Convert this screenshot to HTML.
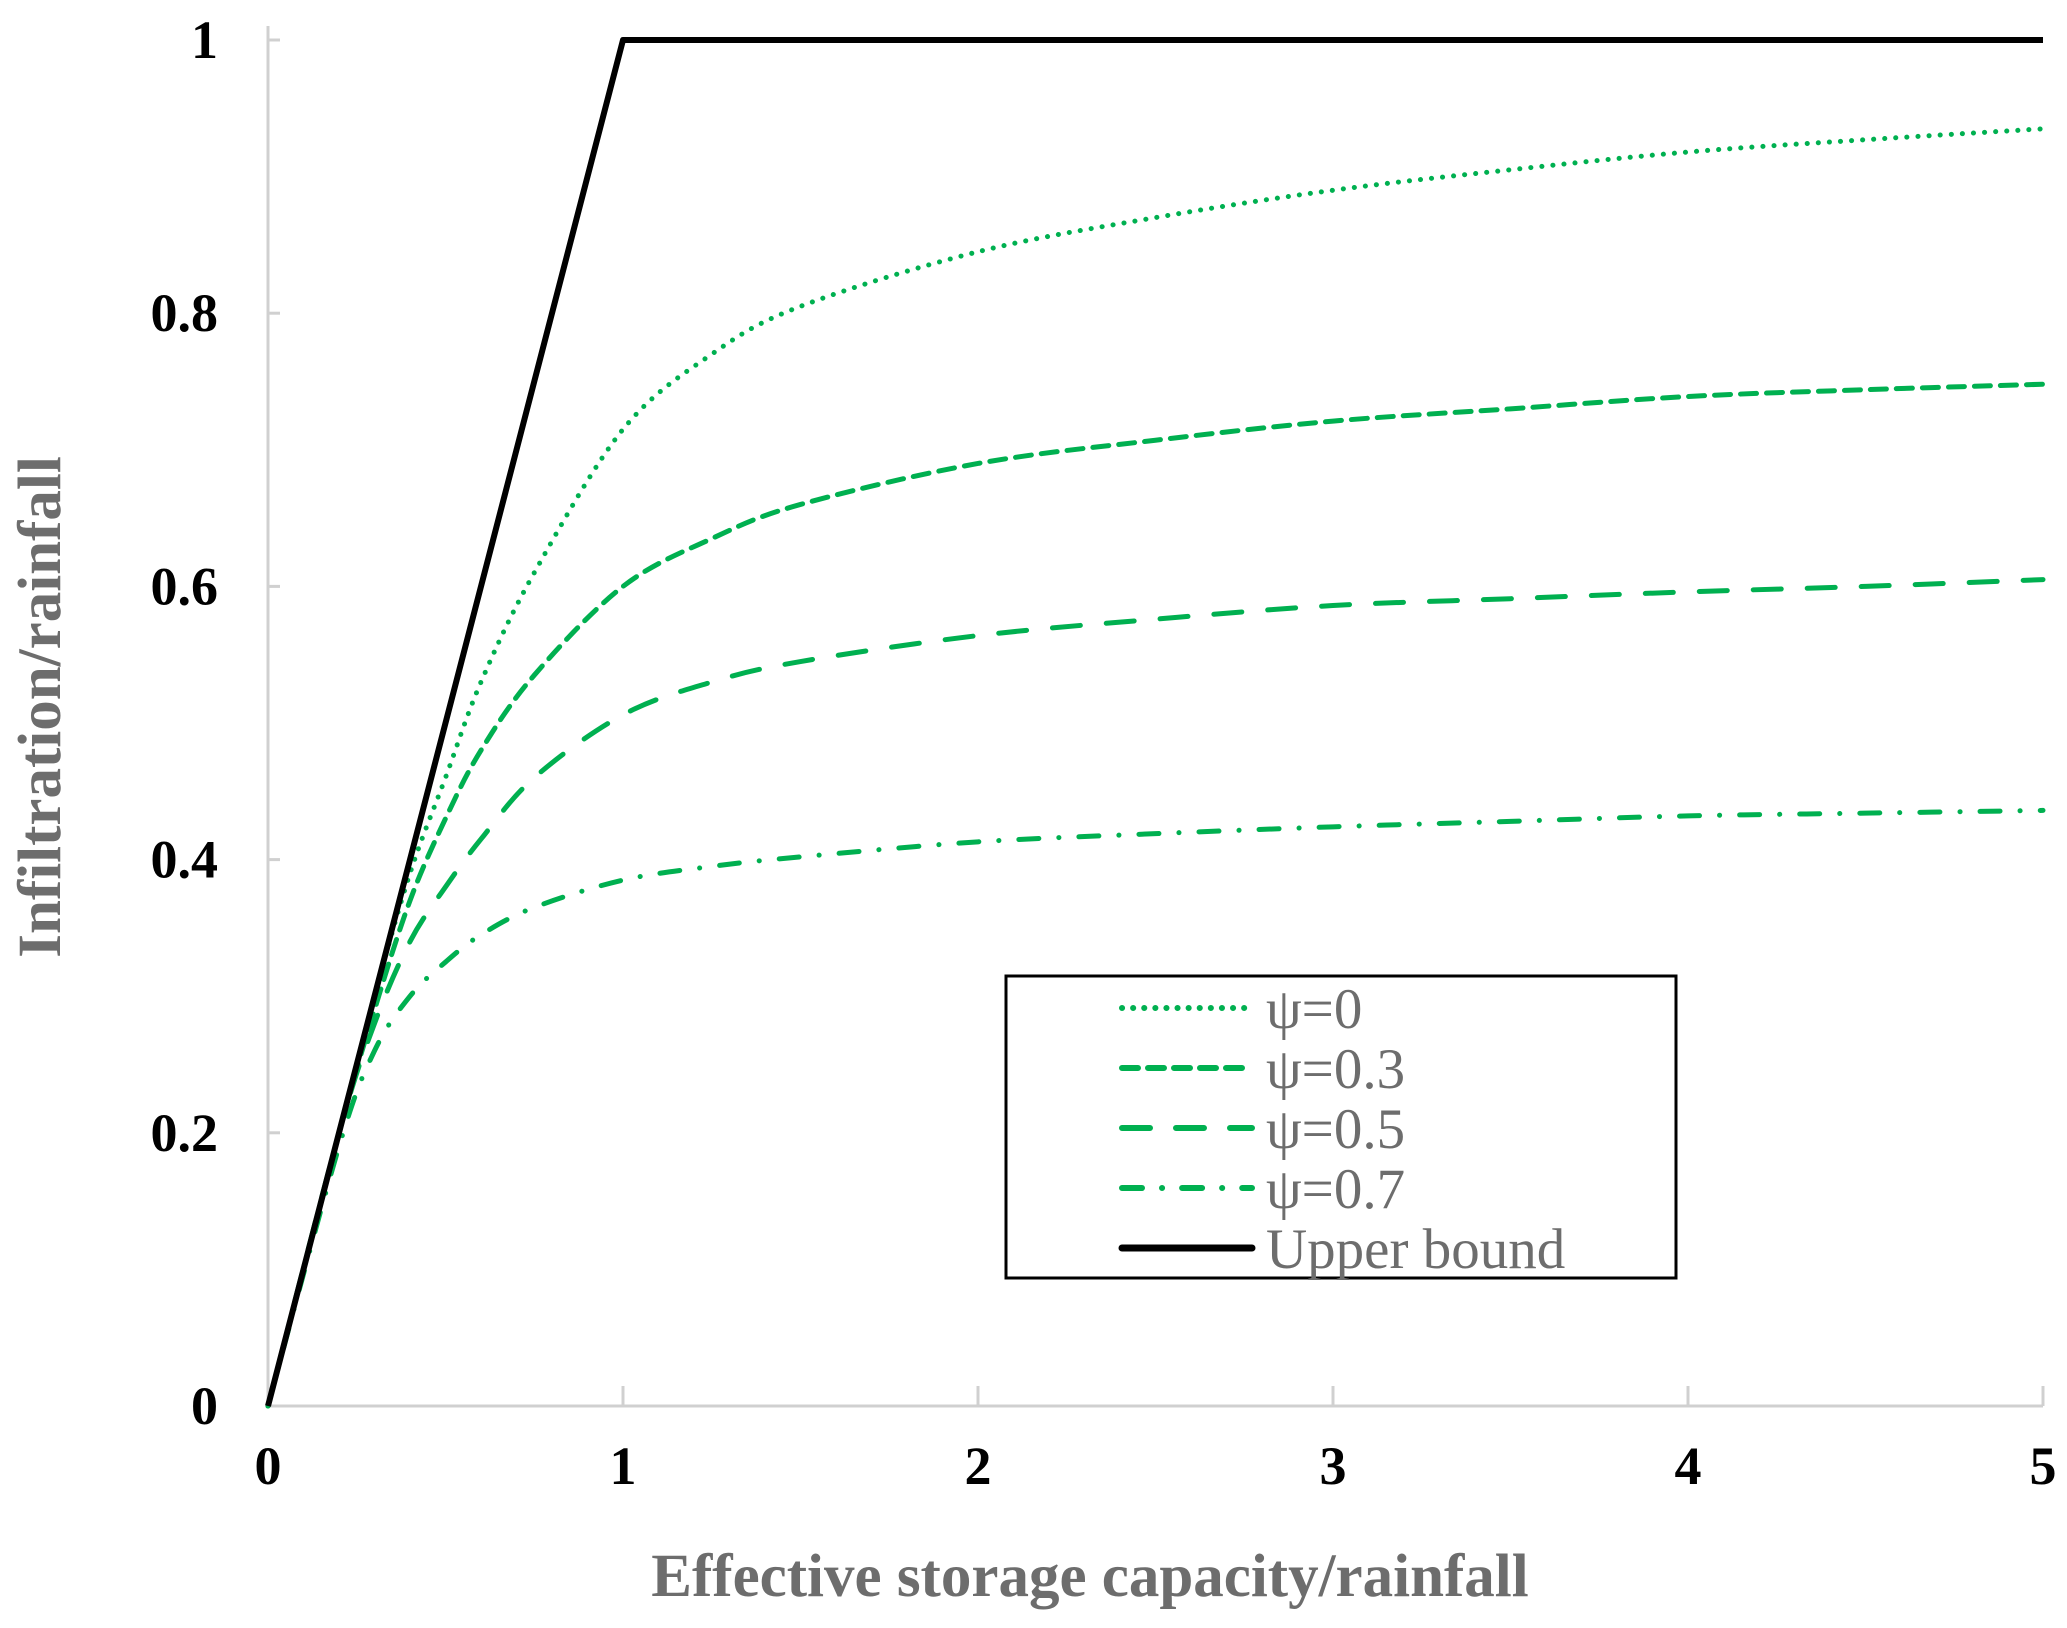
<!DOCTYPE html>
<html><head><meta charset="utf-8"><style>
html,body{margin:0;padding:0;background:#fff}
svg{display:block}
</style></head><body>
<svg id="chart" width="2067" height="1628" xmlns="http://www.w3.org/2000/svg" font-family="'Liberation Serif', serif">
<g id="axes"></g><g id="series"></g>
<g id="legend">
<rect x="1006" y="976" width="670" height="302" fill="#fff" stroke="#000" stroke-width="3"/>
</g>
<text x="1090" y="1596" text-anchor="middle" font-size="61" font-weight="bold" fill="#6d6d6d">Effective storage capacity/rainfall</text>
<text x="60" y="707" text-anchor="middle" font-size="61" font-weight="bold" fill="#6d6d6d" transform="rotate(-90 60 707)">Infiltration/rainfall</text>
</svg>
<script>
const xTicks=[0,1,2,3,4,5];
const yTicks=[0,0.2,0.4,0.6,0.8,1];
const yTickLabels=["0","0.2","0.4","0.6","0.8","1"];
const upperX=[0,1,5];
const upperY=[0,1,1];
const sx=[0,0.2,0.3,0.4,0.5,0.6,0.75,1,1.25,1.5,2,2.5,3,3.5,4,4.5,5];
const psi0=[0,0.2,0.3,0.39,0.46,0.53,0.61,0.715,0.77,0.805,0.845,0.87,0.89,0.905,0.918,0.927,0.935];
const psi03=[0,0.2,0.29,0.37,0.43,0.48,0.535,0.60,0.635,0.66,0.69,0.707,0.721,0.73,0.739,0.744,0.748];
const psi05=[0,0.2,0.28,0.34,0.38,0.415,0.46,0.506,0.53,0.545,0.564,0.576,0.586,0.591,0.596,0.60,0.605];
const psi07=[0,0.19,0.26,0.30,0.325,0.345,0.365,0.385,0.395,0.402,0.413,0.419,0.424,0.428,0.432,0.434,0.436];
const legendLabels=["ψ=0","ψ=0.3","ψ=0.5","ψ=0.7","Upper bound"];
const X=v=>268+v*355;
const Y=v=>1406-v*1366;
const NS="http://www.w3.org/2000/svg";
function mk(tag,attrs,parent){const e=document.createElementNS(NS,tag);for(const k in attrs)e.setAttribute(k,attrs[k]);parent.appendChild(e);return e;}
function smooth(P){let d='M'+P[0][0]+','+P[0][1];for(let i=0;i<P.length-1;i++){const p0=P[Math.max(0,i-1)],p1=P[i],p2=P[i+1],p3=P[Math.min(P.length-1,i+2)];const c1=[p1[0]+(p2[0]-p0[0])/6,p1[1]+(p2[1]-p0[1])/6],c2=[p2[0]-(p3[0]-p1[0])/6,p2[1]-(p3[1]-p1[1])/6];d+=' C'+c1+' '+c2+' '+p2;}return d;}
const axes=document.getElementById('axes');
let a=mk('line',{x1:X(0),y1:Y(0),x2:X(5),y2:Y(0),stroke:'#d0d0d0','stroke-width':3},axes);


a=mk('line',{x1:X(0),y1:Y(0),x2:X(0),y2:Y(1)-14,stroke:'#d0d0d0','stroke-width':3},axes);


xTicks.forEach(t=>{
 const l=mk('line',{x1:X(t),y1:Y(0),x2:X(t),y2:Y(0)-20,stroke:'#d0d0d0','stroke-width':3},axes);
 
 
 const tx=mk('text',{x:X(t),y:1484,'text-anchor':'middle','font-size':54,'font-weight':'bold',fill:'#000'},axes);
 tx.textContent=String(t);
 
 
});
yTicks.forEach((t,i)=>{
 const l=mk('line',{x1:X(0),y1:Y(t),x2:X(0)+12,y2:Y(t),stroke:'#d0d0d0','stroke-width':3},axes);
 
 
 const tx=mk('text',{x:218,y:Y(t)+18,'text-anchor':'end','font-size':54,'font-weight':'bold',fill:'#000'},axes);
 tx.textContent=yTickLabels[i];
 
 
});
const ser=document.getElementById('series');
const G='#00b050';
const styles=[
 {xs:sx,ys:psi0,c:G,d:'0.1 11',n:'series-psi-0'},
 {xs:sx,ys:psi03,c:G,d:'16 10',n:'series-psi-0-3'},
 {xs:sx,ys:psi05,c:G,d:'28 26',n:'series-psi-0-5'},
 {xs:sx,ys:psi07,c:G,d:'20 20 0.1 20',n:'series-psi-0-7'},
 {xs:upperX,ys:upperY,c:'#000',d:'',n:'series-upper-bound'}
];
styles.forEach((s,i)=>{
 const P=s.xs.map((x,j)=>[X(x),Y(s.ys[j])]);
 let p;
 if(i==4) p=mk('polyline',{points:P.map(q=>q.join(',')).join(' '),fill:'none',stroke:s.c,'stroke-width':6,'stroke-linejoin':'round'},ser);
 else p=mk('path',{d:smooth(P),fill:'none',stroke:s.c,'stroke-width':5,'stroke-linecap':'round'},ser);
 if(s.d)p.setAttribute('stroke-dasharray',s.d);
 
 
 const leg=document.getElementById('legend');
 const yy=1008+i*60;
 const ll=mk('line',{x1:1122,y1:yy,x2:1252,y2:yy,stroke:s.c,'stroke-width':i==4?7:6,'stroke-linecap':'round'},leg);
 if(s.d)ll.setAttribute('stroke-dasharray',s.d);
 
 
 const tx=mk('text',{x:1266,y:yy+20,'font-size':57,fill:'#6d6d6d'},leg);
 tx.textContent=legendLabels[i];
 
 
});
</script>
</body></html>
